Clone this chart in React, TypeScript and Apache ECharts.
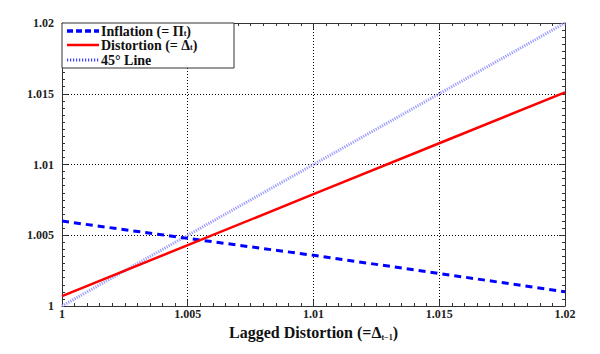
import React, { useEffect, useRef } from "react";
import * as echarts from "echarts";

const xValues = [1, 1.005, 1.01, 1.015, 1.02];
const inflation = [1.006, 1.00478, 1.00358, 1.0023, 1.001];
const distortion = [1.0007, 1.0043, 1.0079, 1.0115, 1.0151];
const line45 = [1, 1.005, 1.01, 1.015, 1.02];
const legendNames = ["Inflation (= Π", "Distortion (= Δ", "45° Line"];
const xAxisTitle = "Lagged Distortion (=Δ";

const FONT = "Liberation Serif";

function fmt(v: number) {
  if (Math.abs(v - 1) < 1e-9) return "1";
  return String(Number(v.toFixed(3)));
}

export default function App() {
  const ref = useRef<HTMLDivElement>(null);
  useEffect(() => {
    document.body.style.margin = "0";
    const chart = echarts.init(ref.current!, null, { renderer: "svg" });
    const toPairs = (ys: number[]) => xValues.map((x, i) => [x, ys[i]]);
    const axisCommon = {
      type: "value" as const,
      min: 1,
      max: 1.02,
      interval: 0.005,
      axisLine: { show: true, lineStyle: { color: "#333", width: 1 } },
      axisTick: { show: true, inside: true, length: 6, lineStyle: { color: "#333" } },
      minorTick: { show: true, splitNumber: 10, length: 3, lineStyle: { color: "#333" } },
    };
    const labelStyle = {
      fontFamily: FONT,
      fontWeight: "bold" as const,
      fontSize: 12,
      color: "#222",
      formatter: fmt,
    };
    const splitLine = {
      show: true,
      lineStyle: { color: "#000", type: [1, 2] as any, width: 1 },
    };
    const legendY = [31, 45, 60];
    const graphic: any[] = [
      {
        type: "rect",
        shape: { x: 62, y: 23, width: 172, height: 45 },
        style: { fill: "#fff", stroke: "#333", lineWidth: 1 },
        z: 100,
      },
      {
        type: "line",
        shape: { x1: 67, y1: legendY[0], x2: 99, y2: legendY[0] },
        style: { stroke: "#0000ff", lineWidth: 3.5, lineDash: [6, 3] },
        z: 101,
      },
      {
        type: "line",
        shape: { x1: 67, y1: legendY[1], x2: 99, y2: legendY[1] },
        style: { stroke: "#ff0000", lineWidth: 2.5 },
        z: 101,
      },
      {
        type: "line",
        shape: { x1: 67, y1: legendY[2], x2: 99, y2: legendY[2] },
        style: { stroke: "#4040ff", lineWidth: 3, lineDash: [1.2, 1.8] },
        z: 101,
      },
    ];
    const legendTexts = [
      `{m|${legendNames[0]}}{s|t}{m|)}`,
      `{m|${legendNames[1]}}{s|t}{m|)}`,
      `{m|${legendNames[2]}}`,
    ];
    legendTexts.forEach((t, i) => {
      graphic.push({
        type: "text",
        x: 101,
        y: legendY[i],
        z: 101,
        style: {
          text: t,
          verticalAlign: "middle",
          rich: {
            m: { fontFamily: FONT, fontWeight: "bold", fontSize: 14, fill: "#111", lineHeight: 12 },
            s: { fontFamily: FONT, fontWeight: "bold", fontSize: 8, fill: "#111", lineHeight: 8, padding: [4, 0, 0, 0] },
          },
        },
      });
    });
    chart.setOption({
      animation: false,
      grid: { left: 62, right: 35, top: 23, bottom: 48 },
      xAxis: [
        {
          ...axisCommon,
          position: "bottom",
          splitLine,
          axisLabel: { ...labelStyle, margin: 2 },
          name: `${xAxisTitle}{s|t−1})`,
          nameLocation: "middle",
          nameGap: 17,
          nameTextStyle: {
            fontFamily: FONT,
            fontWeight: "bold",
            fontSize: 16,
            color: "#111",
            rich: {
              s: { fontFamily: FONT, fontWeight: "bold", fontSize: 8, color: "#111", padding: [10, 0, 0, 0] },
            },
          },
        },
        {
          ...axisCommon,
          position: "top",
          splitLine: { show: false },
          axisLabel: { show: false },
        },
      ],
      yAxis: [
        {
          ...axisCommon,
          position: "left",
          splitLine,
          axisLabel: { ...labelStyle, margin: 8 },
        },
        {
          ...axisCommon,
          position: "right",
          splitLine: { show: false },
          axisLabel: { show: false },
        },
      ],
      series: [
        {
          name: "45° Line",
          type: "line",
          data: toPairs(line45),
          showSymbol: false,
          lineStyle: { color: "#9a9aff", width: 3, type: [1.2, 1.2] as any },
          z: 2,
        },
        {
          name: "Inflation",
          type: "line",
          data: toPairs(inflation),
          showSymbol: false,
          lineStyle: { color: "#0000ff", width: 3, type: [7, 5] as any },
          z: 3,
        },
        {
          name: "Distortion",
          type: "line",
          data: toPairs(distortion),
          showSymbol: false,
          lineStyle: { color: "#ff0000", width: 2.5, type: "solid" },
          z: 4,
        },
      ],
      graphic,
    });
    return () => chart.dispose();
  }, []);
  return <div ref={ref} style={{ width: 600, height: 354, position: "absolute", left: 0, top: 0, background: "#fff" }} />;
}
